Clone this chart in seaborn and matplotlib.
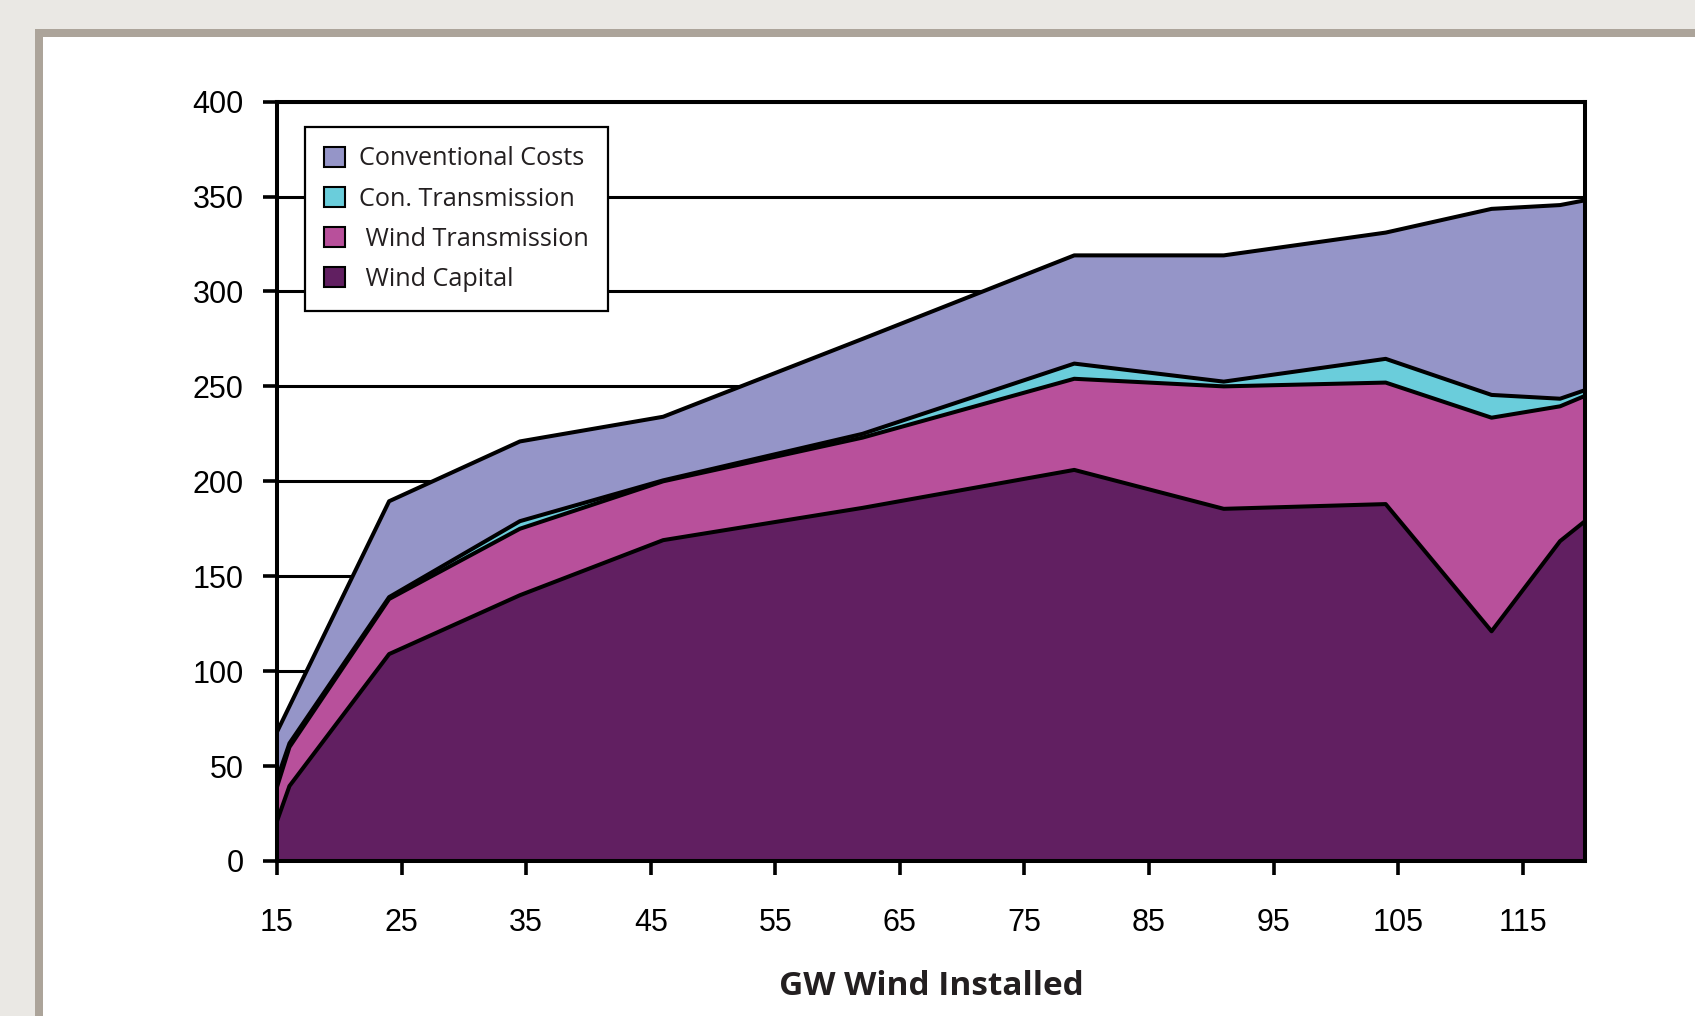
import numpy as np
import pandas as pd
import matplotlib
matplotlib.use("Agg")
import matplotlib.pyplot as plt
from matplotlib.patches import Rectangle, Patch
import seaborn as sns

# GW of wind installed (x) and the cost components stacked on top of each other
gw_installed = [15, 16, 24, 34.5, 46, 62, 79, 91, 104, 112.5, 118, 120]
wind_capital = [21, 39.5, 109, 140, 169, 186, 206, 185.5, 188, 121, 168.5, 179]
wind_transmission = [18, 20.5, 29, 35, 31, 37, 48, 64.5, 64, 112.5, 71, 66]
con_transmission = [4, 2, 1, 4, 0.5, 2, 8, 2.5, 12.5, 12, 4, 3]
conventional_costs = [25, 19.5, 50.5, 42, 33.5, 50, 57, 66.5, 66.5, 98, 102, 100]

series_names = ["Wind Capital", "Wind Transmission", "Con. Transmission", "Conventional Costs"]
legend_labels = [" Wind Capital", " Wind Transmission", "Con. Transmission", "Conventional Costs"]
series_colors = ["#611F61", "#B8509B", "#6ACDDB", "#9595C8"]
y_ticks = [0, 50, 100, 150, 200, 250, 300, 350, 400]
x_ticks = [15, 25, 35, 45, 55, 65, 75, 85, 95, 105, 115]

sns.set_theme(style="white")
plt.rcParams["font.family"] = ["Liberation Sans", "DejaVu Sans"]

fig = plt.figure(figsize=(16.95, 10.16), dpi=100)
fig.patch.set_facecolor("#EAE8E4")
# page frame: grey border on the left and top, white sheet inside
fig.add_artist(Rectangle((35 / 1695, 0), 1, 1 - 29 / 1016, transform=fig.transFigure,
                         facecolor="#ACA49A", edgecolor="none", zorder=-20))
fig.add_artist(Rectangle((43.3 / 1695, 0), 1, 1 - 37 / 1016, transform=fig.transFigure,
                         facecolor="white", edgecolor="none", zorder=-19))

ax = fig.add_axes([277 / 1695, 1 - 861 / 1016, (1585 - 277) / 1695, (861 - 101.6) / 1016])
ax.set_facecolor("white")

x = np.array(gw_installed, dtype=float)
layers = np.array([wind_capital, wind_transmission, con_transmission, conventional_costs], dtype=float)
tops = np.cumsum(layers, axis=0)
bottoms = np.vstack([np.zeros_like(x), tops[:-1]])

for lo, hi, col in zip(bottoms, tops, series_colors):
    ax.fill_between(x, lo, hi, color=col, lw=0, zorder=2)

# black outline along the top of every layer
boundary = pd.DataFrame({
    "gw": np.tile(x, len(series_names)),
    "value": tops.ravel(),
    "layer": np.repeat(series_names, len(x)),
})
sns.lineplot(data=boundary, x="gw", y="value", hue="layer", palette=["black"] * 4,
             estimator=None, sort=False, legend=False, lw=2.9, ax=ax, zorder=3)

ax.set_xlim(15, 120)
ax.set_ylim(0, 400)
ax.set_xticks(x_ticks)
ax.set_yticks(y_ticks)
ax.yaxis.grid(True, color="black", lw=2.2)
ax.xaxis.grid(False)
ax.set_axisbelow(True)

for s in ax.spines.values():
    s.set_color("black")
    s.set_linewidth(2.9)
    s.set_zorder(4)

ax.tick_params(axis="both", direction="out", length=10, width=2.6, color="black",
               labelsize=22, labelcolor="black")
ax.tick_params(axis="y", pad=14, left=True)
ax.tick_params(axis="x", pad=24, bottom=True)

ax.set_ylabel("")
ax.set_xlabel("GW Wind Installed", family=["Open Sans", "DejaVu Sans"], fontsize=24,
              fontweight="bold", color="#231F20", labelpad=23)

handles = [Patch(facecolor=c, edgecolor="black", lw=1.5) for c in series_colors]
leg = ax.legend(handles[::-1], legend_labels[::-1], loc="upper left",
                bbox_to_anchor=(0.0214, 0.966), borderaxespad=0, frameon=True,
                fancybox=False, shadow=False, prop={"family": ["Open Sans", "DejaVu Sans"], "size": 18.2},
                handlelength=0.85, handleheight=0.85, handletextpad=0.55, labelspacing=0.6,
                borderpad=0.75, framealpha=1)
leg.get_frame().set_edgecolor("black")
leg.get_frame().set_linewidth(1.6)
leg.set_zorder(5)
for t in leg.get_texts():
    t.set_color("#231F20")

fig.savefig("out.png", dpi=100, facecolor=fig.get_facecolor())
